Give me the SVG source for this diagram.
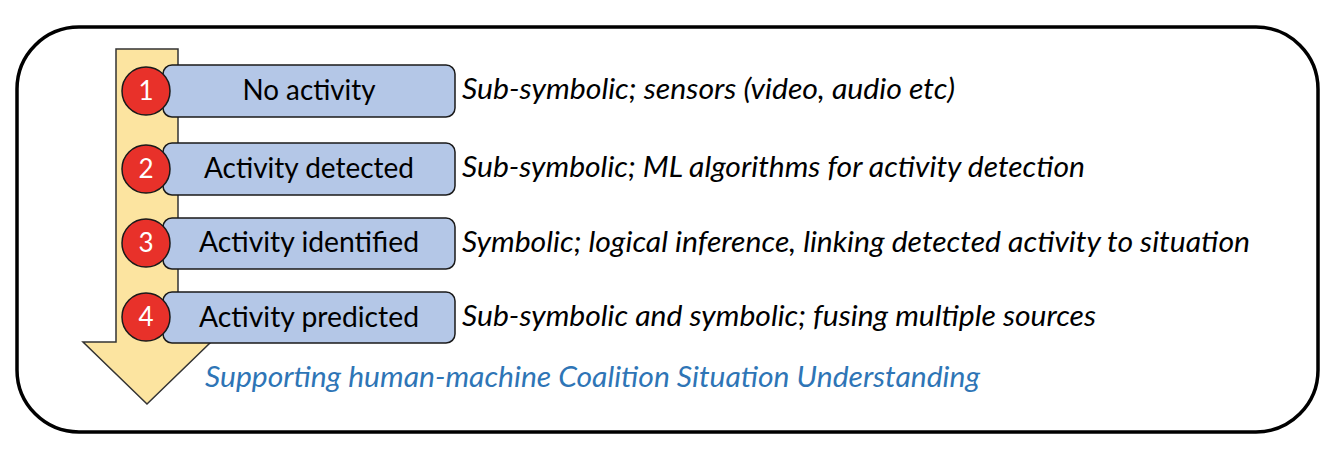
<svg xmlns="http://www.w3.org/2000/svg" width="1336" height="450" viewBox="0 0 1336 450">
<style>
.box{fill:#B4C7E7;stroke:#1a1a1a;stroke-width:1.5}
.num{fill:#E8312A;stroke:#1a1a1a;stroke-width:1.5}
.lbl{font-family:Lato,"Open Sans",sans-serif;font-size:28px;fill:#000;text-anchor:middle}
.n{font-family:Lato,"Open Sans",sans-serif;font-size:26px;fill:#fff;text-anchor:middle}
.desc{font-family:Lato,"Open Sans",sans-serif;font-style:italic;font-size:29px;fill:#000}
.blue{font-family:Lato,"Open Sans",sans-serif;font-style:italic;font-size:28px;fill:#2E75B6}
</style>
<rect width="1336" height="450" fill="#fff"/>
<rect id="frame" x="17" y="27" width="1301" height="405" rx="62" ry="62" fill="none" stroke="#000" stroke-width="3.5"/>
<g id="arrow">
<path d="M116,49 H178 V342 H211 L147,404 L83,342 H116 Z" fill="#FCE4A0" stroke="#333" stroke-width="1.5"/>
</g>
<g id="node1">
<rect class="box" x="163" y="65" width="292" height="52" rx="9"/>
<text class="lbl" x="309" y="100" textLength="133" lengthAdjust="spacingAndGlyphs">No activity</text>
<circle class="num" cx="146" cy="91" r="24"/>
<text class="n" x="146" y="100">1</text>
<text class="desc" x="462" y="99" textLength="493" lengthAdjust="spacingAndGlyphs">Sub-symbolic; sensors (video, audio etc)</text>
</g>
<g id="node2">
<rect class="box" x="163" y="143" width="292" height="52" rx="9"/>
<text class="lbl" x="309" y="178" textLength="210" lengthAdjust="spacingAndGlyphs">Activity detected</text>
<circle class="num" cx="146" cy="169" r="24"/>
<text class="n" x="146" y="178">2</text>
<text class="desc" x="462" y="177" textLength="623" lengthAdjust="spacingAndGlyphs">Sub-symbolic; ML algorithms for activity detection</text>
</g>
<g id="node3">
<rect class="box" x="163" y="218" width="292" height="51" rx="9"/>
<text class="lbl" x="309" y="252" textLength="220" lengthAdjust="spacingAndGlyphs">Activity identified</text>
<circle class="num" cx="146" cy="243" r="24"/>
<text class="n" x="146" y="252">3</text>
<text class="desc" x="462" y="252" textLength="788" lengthAdjust="spacingAndGlyphs">Symbolic; logical inference, linking detected activity to situation</text>
</g>
<g id="node4">
<rect class="box" x="163" y="292" width="292" height="51" rx="9"/>
<text class="lbl" x="309" y="327" textLength="220" lengthAdjust="spacingAndGlyphs">Activity predicted</text>
<circle class="num" cx="146" cy="317" r="24"/>
<text class="n" x="146" y="326">4</text>
<text class="desc" x="462" y="326" textLength="634" lengthAdjust="spacingAndGlyphs">Sub-symbolic and symbolic; fusing multiple sources</text>
</g>
<g id="connectors"></g>
<text class="blue" x="205" y="387" textLength="775" lengthAdjust="spacingAndGlyphs">Supporting human-machine Coalition Situation Understanding</text>
</svg>
